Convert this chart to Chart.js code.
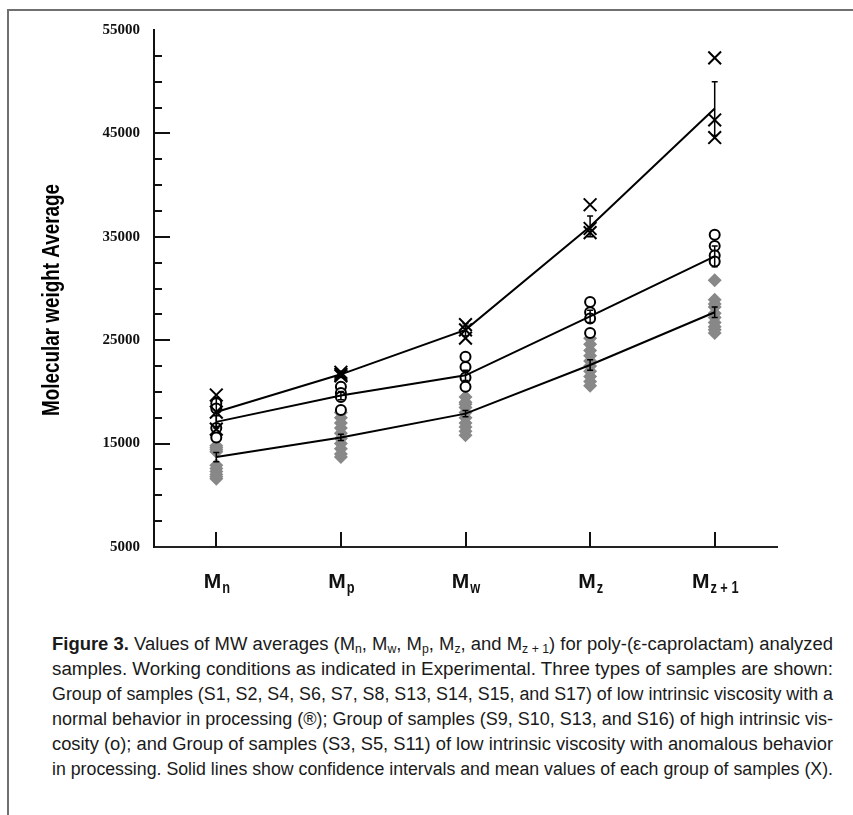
<!DOCTYPE html>
<html>
<head>
<meta charset="utf-8">
<script src="https://cdn.jsdelivr.net/npm/chart.js@4.4.1/dist/chart.umd.min.js"></script>
<style>
  html, body { margin: 0; padding: 0; background: #fff; }
  body { width: 853px; height: 815px; position: relative; overflow: hidden; }
  #frame { position: absolute; left: 7px; top: 9px; width: 846px; height: 806px;
           border-top: 2px solid #707070; border-left: 2px solid #707070; }
  #graph-box { position: absolute; left: 0; top: 0; }
  #caption { position: absolute; left: 52px; top: 632px; width: 781px;
             font-family: 'Liberation Sans', sans-serif;
             font-size: 18px; color: #1a1a1a; }
  #caption .cl { white-space: nowrap; width: max-content; height: 25px; line-height: 25px;
                 transform-origin: 0 50%; }
  #caption sub { font-size: 12px; vertical-align: -3px; line-height: 0; }
</style>
</head>
<body>
<div id="frame"></div>
<canvas id="graph-box" width="853" height="620"></canvas>
<div id="caption">
<div class="cl"><b>Figure 3.</b> Values of MW averages (M<sub>n</sub>, M<sub>w</sub>, M<sub>p</sub>, M<sub>z</sub>, and M<sub>z + 1</sub>) for poly-(ε-caprolactam) analyzed</div>
<div class="cl">samples. Working conditions as indicated in Experimental. Three types of samples are shown:</div>
<div class="cl">Group of samples (S1, S2, S4, S6, S7, S8, S13, S14, S15, and S17) of low intrinsic viscosity with a</div>
<div class="cl">normal behavior in processing (®); Group of samples (S9, S10, S13, and S16) of high intrinsic vis-</div>
<div class="cl">cosity (o); and Group of samples (S3, S5, S11) of low intrinsic viscosity with anomalous behavior</div>
<div class="cl">in processing. Solid lines show confidence intervals and mean values of each group of samples (X).</div>
</div>
<script>
// subscripts of M on the x axis
const categories = ['n', 'p', 'w', 'z', 'z + 1'];
const yMin = 5000;
const yMax = 55000;

// anomalous behaviour (S3, S5, S11) - crosses
const crossValues = [
    [19700, 18050, 16400],
    [21900, 21700, 21550],
    [26500, 26000, 25200],
    [38100, 35800, 35400],
    [52300, 46300, 44600]
];
const crossMean = [18050, 21700, 26000, 36000, 47400];
const crossErr = [1400, 300, 600, 1000, 2600];

// high intrinsic viscosity (S9, S10, S13, S16) - open circles
const circleValues = [
    [18900, 18400, 16500, 15600],
    [20500, 19900, 19500, 18250],
    [23400, 22400, 21400, 20500],
    [28700, 27700, 27100, 25700],
    [35200, 34100, 33200, 32600]
];
const circleMean = [17100, 19650, 21600, 27300, 33100];
const circleErr = [600, 400, 500, 600, 1000];

// low intrinsic viscosity, normal behaviour - grey markers
const greyValues = [
    [14800, 14600, 14400, 14200, 12900, 12600, 12300, 12000, 11800, 11600],
    [18000, 17500, 17000, 16500, 16000, 15500, 15000, 14500, 14000, 13700],
    [19500, 19000, 18800, 18500, 18000, 17500, 17000, 16600, 16200, 15800],
    [25200, 24600, 24000, 23500, 23000, 22500, 22000, 21500, 21000, 20600],
    [30800, 28900, 28500, 28200, 27600, 27200, 26700, 26300, 26000, 25700]
];
const greyMean = [13700, 15600, 17900, 22600, 27700];
const greyErr = [450, 300, 300, 500, 500];

// squeeze each caption line to the column width (condensed look)
document.querySelectorAll('#caption .cl').forEach(el => {
    const w = el.getBoundingClientRect().width;
    el.style.transform = 'scaleX(' + (781 / w) + ')';
});

function toPoints(groups) {
    const pts = [];
    groups.forEach((vals, i) => vals.forEach(v => pts.push({ x: i, y: v })));
    return pts;
}
function meanPoints(means) {
    return means.map((v, i) => ({ x: i, y: v }));
}

const meanLine = {
    showLine: true,
    borderColor: '#000',
    borderWidth: 2,
    pointRadius: 0,
    tension: 0
};

// ticks pointing into the plot, confidence bars, subscript labels
const extras = {
    id: 'extras',
    afterDatasetsDraw(chart) {
        const { ctx, scales: { x, y } } = chart;
        ctx.save();
        ctx.strokeStyle = '#000';
        ctx.lineWidth = 1.5;
        [[crossMean, crossErr], [circleMean, circleErr], [greyMean, greyErr]].forEach(([m, e]) => {
            m.forEach((v, i) => {
                const px = x.getPixelForValue(i);
                const top = y.getPixelForValue(v + e[i]);
                const bot = y.getPixelForValue(v - e[i]);
                ctx.beginPath();
                ctx.moveTo(px, top); ctx.lineTo(px, bot);
                ctx.moveTo(px - 3, top); ctx.lineTo(px + 3, top);
                ctx.moveTo(px - 3, bot); ctx.lineTo(px + 3, bot);
                ctx.stroke();
            });
        });
        ctx.restore();
    },
    afterDraw(chart) {
        const { ctx, chartArea, scales: { x, y } } = chart;
        ctx.save();
        ctx.strokeStyle = '#111';
        ctx.lineWidth = 2;
        ctx.beginPath();
        y.ticks.forEach(t => {
            if (t.value <= yMin || t.value >= yMax) return;
            const py = Math.round(y.getPixelForValue(t.value));
            const len = (t.value - yMin) % 10000 === 0 ? 16 : 8;
            ctx.moveTo(chartArea.left, py);
            ctx.lineTo(chartArea.left + len, py);
        });
        categories.forEach((c, i) => {
            const px = Math.round(x.getPixelForValue(i));
            ctx.moveTo(px, chartArea.bottom);
            ctx.lineTo(px, chartArea.bottom - 15);
        });
        ctx.stroke();

        // category labels M with subscript
        ctx.fillStyle = '#111';
        ctx.textBaseline = 'alphabetic';
        ctx.textAlign = 'left';
        const mainFont = 'bold 21px "Liberation Sans", sans-serif';
        const subFont = 'bold 16px "Liberation Sans", sans-serif';
        categories.forEach((c, i) => {
            const px = x.getPixelForValue(i);
            ctx.font = mainFont;
            const wM = ctx.measureText('M').width;
            ctx.font = subFont;
            const wS = ctx.measureText(c).width * 0.8;
            const start = px - (wM + wS) / 2;
            ctx.font = mainFont;
            ctx.fillText('M', start, 588);
            ctx.font = subFont;
            ctx.save();
            ctx.translate(start + wM + 1, 593);
            ctx.scale(0.8, 1);
            ctx.fillText(c, 0, 0);
            ctx.restore();
        });

        // y axis title, condensed
        ctx.translate(53, 300);
        ctx.rotate(-Math.PI / 2);
        ctx.textAlign = 'center';
        ctx.textBaseline = 'middle';
        ctx.fillStyle = '#000';
        ctx.font = 'bold 23px "Liberation Sans", sans-serif';
        const tw = ctx.measureText('Molecular weight Average').width;
        ctx.scale(232 / tw, 1);
        ctx.fillText('Molecular weight Average', 0, 0);
        ctx.restore();
    }
};

const ctx = document.getElementById('graph-box');

const myChart = new Chart(ctx, {
    type: 'scatter',
    data: {
        datasets: [
        Object.assign({ data: meanPoints(crossMean) }, meanLine),
        Object.assign({ data: meanPoints(circleMean) }, meanLine),
        Object.assign({ data: meanPoints(greyMean) }, meanLine),
        {
            label: 'anomalous',
            data: toPoints(crossValues),
            pointStyle: 'crossRot',
            pointRadius: 9,
            borderColor: '#000',
            borderWidth: 2
        },
        {
            label: 'high viscosity',
            data: toPoints(circleValues),
            pointStyle: 'circle',
            pointRadius: 5,
            backgroundColor: '#fff',
            borderColor: '#000',
            borderWidth: 2
        },
        {
            label: 'normal',
            data: toPoints(greyValues),
            pointStyle: 'rectRot',
            pointRadius: 7,
            backgroundColor: '#888',
            borderWidth: 0
        }]
    },
    options: {
        responsive: false,
        animation: false,
        events: [],
        layout: {
            padding: { left: 0, right: 76, top: 30, bottom: 0 }
        },
        plugins: {
            legend: { display: false },
            tooltip: { enabled: false }
        },
        scales: {
            x: {
                type: 'linear',
                min: -0.5,
                max: categories.length - 0.5,
                grid: { display: false },
                border: { display: true, color: '#222', width: 2 },
                ticks: { display: false },
                afterFit(scale) { scale.height = 73; }
            },
            y: {
                min: yMin,
                max: yMax,
                grid: { display: false, drawTicks: false },
                border: { display: true, color: '#111', width: 2 },
                ticks: {
                    stepSize: 2500,
                    autoSkip: false,
                    padding: 14,
                    color: '#111',
                    font: { family: '"Liberation Serif", serif', size: 15, weight: 'bold' },
                    callback: v => ((v - yMin) % 10000 === 0 ? String(v) : '')
                },
                afterFit(scale) { scale.width = 154; }
            }
        }
    },
    plugins: [extras]
});
</script>
</body>
</html>
